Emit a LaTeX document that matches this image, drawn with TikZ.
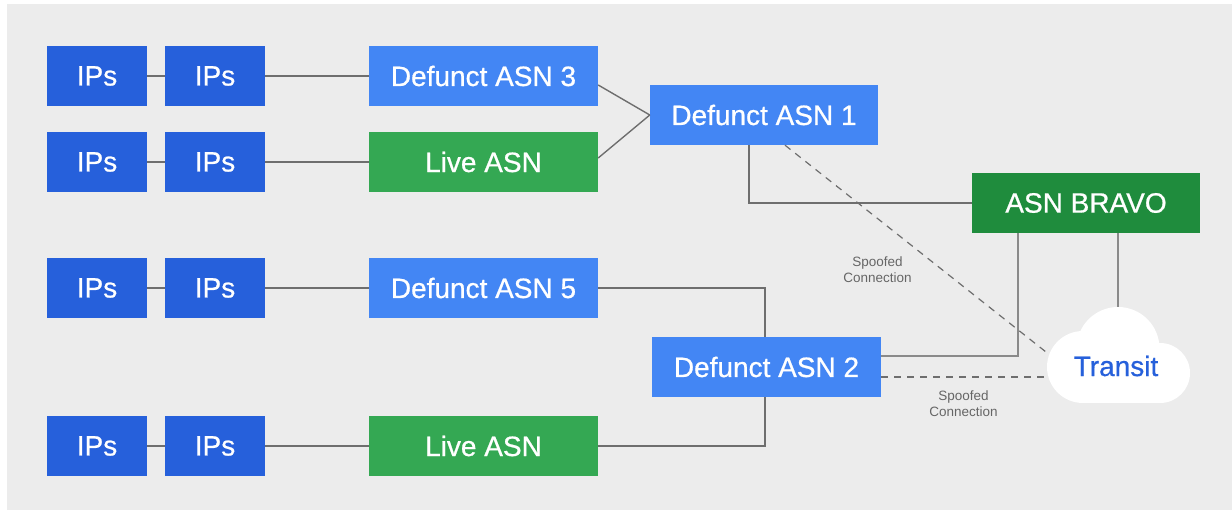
\documentclass[tikz,border=0pt]{standalone}
\usepackage{fontspec}
\setmainfont{Liberation Sans}
\newfontfamily\boxfont[FakeBold=0.7]{Liberation Sans}
\usetikzlibrary{calc}

\definecolor{bgray}{HTML}{ECECEC}
\definecolor{ipblue}{HTML}{2660DB}
\definecolor{asnblue}{HTML}{4386F4}
\definecolor{livegreen}{HTML}{34A853}
\definecolor{bravogreen}{HTML}{1F8C3D}
\definecolor{wire}{HTML}{6E6E6E}
\definecolor{wirelight}{HTML}{8A8A8A}
\definecolor{notegray}{HTML}{666666}

\tikzset{
  box/.style={draw=none, inner sep=0pt, minimum height=60pt, text=white,
    font=\boxfont\fontsize{28}{30}\selectfont},
  ipbox/.style={box, fill=ipblue, minimum width=100pt},
  defunct/.style={box, fill=asnblue, minimum width=229pt},
  live/.style={box, fill=livegreen, minimum width=229pt},
  bravo/.style={box, fill=bravogreen, minimum width=228pt},
  wireline/.style={draw=wire, line width=1.4pt},
  wirelt/.style={draw=wirelight, line width=1.6pt},
  spoof/.style={draw=wire, line width=1.2pt, dash pattern=on 7pt off 6pt},
  note/.style={text=notegray, align=center, inner sep=0pt,
    font=\fontsize{13.5}{16}\selectfont},
}

\begin{document}
\begin{tikzpicture}[x=1pt,y=-1pt]
  % canvas and panel
  \useasboundingbox (0,0) rectangle (1232,510);
  \fill[white] (0,0) rectangle (1232,510);
  \fill[bgray] (7,4) rectangle (1232,510);

  % left-hand chains
  \node[ipbox] (ip1a) at (97,76)    {IPs};
  \node[ipbox] (ip1b) at (215,76)   {IPs};
  \node[defunct] (d3) at (483.5,76) {Defunct ASN 3};

  \node[ipbox] (ip2a) at (97,162)   {IPs};
  \node[ipbox] (ip2b) at (215,162)  {IPs};
  \node[live] (l2) at (483.5,162)   {Live ASN};

  \node[ipbox] (ip3a) at (97,288)   {IPs};
  \node[ipbox] (ip3b) at (215,288)  {IPs};
  \node[defunct] (d5) at (483.5,288) {Defunct ASN 5};

  \node[ipbox] (ip4a) at (97,446)   {IPs};
  \node[ipbox] (ip4b) at (215,446)  {IPs};
  \node[live] (l4) at (483.5,446)   {Live ASN};

  % aggregating ASNs
  \node[defunct, minimum width=228pt] (d1) at (764,115) {Defunct ASN 1};
  \node[defunct] (d2) at (766.5,367) {Defunct ASN 2};
  \node[bravo] (bv) at (1086,203) {ASN BRAVO};

  % cloud anchor points
  \coordinate (cloudtop) at (1118,307);
  \coordinate (cloudA) at (1046,352);
  \coordinate (cloudB) at (1047,377);

  % chain links
  \draw[wireline] (ip1a) -- (ip1b);
  \draw[wireline] (ip1b) -- (d3);
  \draw[wireline] (ip2a) -- (ip2b);
  \draw[wireline] (ip2b) -- (l2);
  \draw[wireline] (ip3a) -- (ip3b);
  \draw[wireline] (ip3b) -- (d5);
  \draw[wireline] (ip4a) -- (ip4b);
  \draw[wireline] (ip4b) -- (l4);

  % links into Defunct ASN 1 and 2
  \draw[wireline] ([yshift=-9pt]d3.east) -- (d1.west);
  \draw[wireline] ([yshift=4pt]l2.east) -- (d1.west);
  \draw[wireline] (d5.east) -| ([xshift=-1.5pt]d2.north);
  \draw[wireline] (l4.east) -| ([xshift=-1.5pt]d2.south);

  % uplinks to ASN BRAVO and transit
  \draw[wireline] ([xshift=-15pt]d1.south) |- (bv.west);
  \draw[wirelt] ([yshift=11pt]d2.east) -| ([xshift=-68pt]bv.south);
  \draw[wirelt] (bv.south -| cloudtop) -- (cloudtop);

  % spoofed paths
  \draw[spoof] ([xshift=21pt]d1.south) -- (cloudA);
  \draw[spoof] ([yshift=-10pt]d2.east) -- (cloudB);

  % transit cloud
  \fill[white] (1118,348.5) circle (41.5);
  \fill[white] (1083,367) circle (36);
  \fill[white] (1160,373) circle (30);
  \fill[white] (1083,360) rectangle (1160,403);
  \node[text=ipblue, inner sep=0pt, font=\boxfont\fontsize{28}{30}\selectfont]
    (transit) at (1116,366) {Transit};

  % labels
  \node[note] (s1) at (877.5,270) {Spoofed\\Connection};
  \node[note] (s2) at (963.5,404) {Spoofed\\Connection};
\end{tikzpicture}
\end{document}
